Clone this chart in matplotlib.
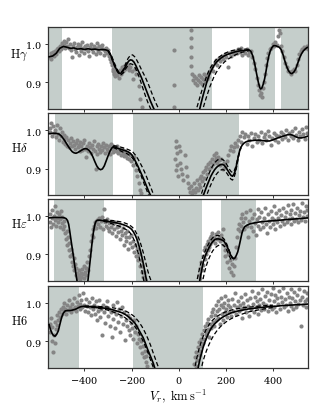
import numpy as np
import matplotlib
matplotlib.use("Agg")
import matplotlib.pyplot as plt

plt.rcParams['mathtext.fontset'] = 'cm'
plt.rcParams['font.family'] = 'serif'
plt.rcParams['font.serif'] = ['DejaVu Serif']
plt.rcParams['axes.formatter.use_mathtext'] = True

# line names and shaded velocity windows
lines = [r'$\mathrm{H}\gamma$', r'$\mathrm{H}\delta$', r'$\mathrm{H}\varepsilon$', r'$\mathrm{H6}$']
label_pos = [0.66, 0.58, 0.70, 0.58]
spans = [
    [(-560, -495), (-282, 141), (297, 410), (432, 560)],
    [(-525, -281), (-193, 255)],
    [(-528, -319), (-182, 97), (178, 329)],
    [(-560, -423), (-196, 102)],
]

# ---------- observed points (V_r, flux) ----------
hg_obs = [(-548,.965),(-544,.975),(-541,.960),(-537,.970),(-533,.978),(-529,.968),(-525,.982),(-521,.972),
(-517,.985),(-513,.990),(-509,.980),(-505,.995),(-501,.985),(-497,1.002),(-493,.992),(-489,1.008),(-485,.998),
(-481,.988),(-477,1.005),(-473,.995),(-469,1.012),(-465,.990),(-461,1.000),(-457,.983),(-453,.965),(-449,.995),
(-445,1.003),(-441,.985),(-437,.978),(-433,.992),(-429,1.000),(-425,.970),(-421,.988),(-417,.996),(-413,.982),
(-409,1.005),(-405,.990),(-401,.975),(-397,.993),(-393,.985),(-389,.998),(-385,.980),(-381,.968),(-377,.992),
(-373,1.000),(-369,.986),(-365,.978),(-361,.995),(-357,.988),(-353,.972),(-349,.990),(-345,1.002),(-341,.982),
(-337,.994),(-333,.976),(-329,.988),(-325,.996),(-321,.985),(-317,.970),(-313,.980),(-309,.990),(-305,.975),
(-301,.984),(-297,.968),(-293,.960),(-289,.952),(-285,.945),(-281,.935),(-277,.928),(-273,.922),(-269,.915),
(-265,.930),(-261,.918),(-257,.925),(-253,.910),(-249,.932),(-245,.920),(-241,.938),(-237,.928),(-233,.942),
(-229,.935),(-225,.948),(-221,.938),(-217,.945),(-212,.932),(-207,.940),(-200,.928),(-193,.909),(-186,.935),
(-180,.920),(-168,.891),(-166,.857),(-158,.836),(-22,.983),(-22,.893),(-22,.835),(51,1.037),(51,1.016),
(52,.991),(51,.965),(53,.943),(55,.922),(62,.905),(66,.915),(70,.898),(74,.910),(78,.892),(82,.905),(86,.918),
(90,.900),(94,.912),(98,.895),(102,.908),(106,.920),(110,.902),(114,.915),(118,.908),(122,.922),(126,.912),
(130,.925),(135,.935),(140,.942),(146,.930),(152,.950),(158,.958),(164,.945),(170,.962),(176,.955),(182,.968),
(188,.960),(194,.972),(200,.965),(209,.940),(215,.975),(221,.968),(227,.978),(233,.972),(240,.982),(246,.975),
(252,.985),(258,.978),(264,.988),(270,.970),(276,.980),(282,.975),(288,.986),(294,.970),(300,.978),(306,.982),
(312,.965),(318,.950),(324,.935),(330,.910),(336,.892),(341,.878),(345,.865),(349,.872),(353,.860),(357,.885),
(361,.900),(366,.920),(370,.945),(375,.962),(380,.975),(386,.985),(392,.990),(398,1.000),(404,.995),(410,1.005),
(416,.998),(422,1.020),(426,1.035),(430,1.028),(434,.995),(440,.982),(446,.965),(452,.950),(458,.938),(464,.930),
(470,.925),(476,.920),(482,.928),(488,.935),(494,.930),(500,.945),(506,.960),(512,.972),(518,.980),(524,.985),
(530,.992),(536,.988),(542,.995),(548,.985)]

hd_obs = [(-548,1.005),(-545,.995),(-541,1.020),(-537,.985),(-533,1.010),(-529,.992),(-525,1.000),(-521,.982),
(-517,1.015),(-513,.990),(-509,.975),(-505,1.005),(-501,.985),(-497,.995),(-493,.970),(-489,.988),(-485,.978),
(-481,.965),(-477,.982),(-473,.960),(-469,.975),(-465,.955),(-461,.968),(-457,.980),(-453,.958),(-449,.972),
(-445,.962),(-441,.950),(-437,.968),(-433,.975),(-429,.955),(-425,.962),(-421,.945),(-417,.970),(-413,.958),
(-409,.948),(-405,.966),(-401,.975),(-397,.952),(-393,.930),(-389,.960),(-385,.945),(-381,.968),(-377,.955),
(-373,.940),(-369,.962),(-365,.950),(-361,.972),(-357,.945),(-353,.898),(-349,.958),(-345,.938),(-341,.965),
(-337,.952),(-333,.942),(-329,.960),(-325,.948),(-321,.968),(-317,.955),(-313,.940),(-309,.962),(-305,.950),
(-301,.945),(-297,.958),(-293,.938),(-289,.965),(-285,.950),(-281,.942),(-277,.960),(-273,.948),(-269,.955),
(-265,.945),(-261,.958),(-257,.940),(-253,.952),(-249,.945),(-245,.935),(-241,.950),(-237,.940),(-233,.932),
(-229,.945),(-225,.935),(-221,.928),(-217,.940),(-212,.925),(-207,.935),(-201,.920),(-195,.910),(-188,.930),
(-182,.895),(-176,.880),(-170,.862),(-166,.845),(-160,.835),(-12,.972),(-10,.955),(-8,.940),(-14,.925),
(-6,.910),(-10,.895),(-4,.880),(2,.960),(6,.945),(4,.915),(10,.900),(14,.885),(20,.870),(26,.935),(30,.905),
(34,.880),(38,.862),(44,.850),(48,.840),(52,.855),(56,.835),(60,.845),(64,.862),(68,.838),(72,.850),(76,.870),
(80,.845),(84,.860),(88,.875),(92,.852),(96,.880),(100,.868),(104,.890),(108,.875),(112,.895),(116,.905),
(120,.885),(124,.912),(128,.898),(132,.918),(136,.905),(140,.925),(144,.912),(148,.935),(152,.920),(156,.928),
(160,.940),(164,.915),(168,.930),(172,.922),(176,.910),(180,.925),(186,.900),(192,.915),(198,.905),(204,.920),
(210,.935),(216,.948),(222,.960),(228,.945),(234,.955),(240,.968),(246,.960),(252,.975),(258,.985),(264,.970),
(270,.995),(276,.982),(282,.990),(288,.965),(294,.985),(300,.975),(306,.992),(312,.960),(318,.980),(324,.990),
(330,.970),(336,.985),(342,.975),(348,.995),(354,.968),(360,.982),(366,.990),(372,.975),(378,.998),(384,.985),
(390,.962),(396,.980),(402,.992),(408,.975),(414,.988),(420,.970),(426,.985),(432,.995),(438,.978),(444,.990),
(450,.982),(456,1.000),(462,.975),(468,.992),(474,.985),(480,.998),(486,.980),(492,1.005),(498,.988),(504,.975),
(510,.995),(516,.985),(522,1.002),(528,.990),(534,.978),(540,1.008),(546,.992)]

he_obs = [(-548,.985),(-545,1.005),(-542,.970),(-539,.995),(-536,1.015),(-533,.980),(-530,1.000),(-527,.990),
(-524,1.025),(-521,.975),(-518,1.010),(-515,.995),(-512,.985),(-509,1.005),(-506,.970),(-503,.992),(-500,1.012),
(-497,.982),(-494,.998),(-491,.965),(-488,.988),(-485,.975),(-482,.955),(-479,.940),(-476,.960),(-473,.925),
(-470,.945),(-467,.910),(-464,.930),(-461,.895),(-458,.915),(-455,.880),(-452,.900),(-449,.870),(-446,.890),
(-443,.858),(-440,.875),(-437,.845),(-434,.865),(-431,.850),(-428,.838),(-425,.860),(-422,.845),(-419,.835),
(-416,.852),(-413,.840),(-410,.862),(-407,.848),(-404,.870),(-401,.838),(-398,.855),(-395,.845),(-392,.865),
(-389,.880),(-386,.858),(-382,.895),(-378,.912),(-374,.935),(-370,.950),(-366,.965),(-362,.945),(-358,.975),
(-354,.985),(-350,.968),(-346,.990),(-342,.978),(-338,.995),(-334,.972),(-330,.988),(-326,.998),(-322,.965),
(-318,1.018),(-314,.985),(-310,.975),(-306,.992),(-302,.968),(-298,.982),(-294,.960),(-290,.985),(-286,.972),
(-282,.955),(-278,.978),(-274,.965),(-270,.985),(-266,.948),(-262,.970),(-258,.958),(-254,.975),(-250,.940),
(-246,.962),(-242,.950),(-238,.968),(-234,.925),(-230,.955),(-226,.945),(-222,.935),(-218,.960),(-214,.915),
(-210,.945),(-206,.930),(-202,.950),(-198,.920),(-194,.935),(-190,.905),(-186,.925),(-182,.895),(-178,.915),
(-174,.885),(-170,.900),(-166,.870),(-162,.885),(-158,.855),(-154,.870),(-150,.840),(-146,.855),(-142,.835),
(86,.845),(88,.865),(92,.838),(95,.880),(98,.858),(101,.895),(104,.872),(107,.910),(110,.888),(113,.920),
(116,.900),(119,.928),(122,.912),(125,.935),(128,.920),(131,.942),(134,.928),(137,.948),(140,.935),(143,.955),
(146,.938),(150,.945),(154,.930),(158,.952),(162,.940),(166,.958),(170,.945),(174,.935),(178,.950),(182,.940),
(186,.966),(190,.925),(194,.910),(198,.895),(202,.915),(206,.880),(210,.900),(214,.865),(218,.885),(222,.855),
(226,.875),(230,.845),(234,.870),(238,.890),(242,.920),(246,.945),(250,.965),(254,.980),(258,.960),(262,.995),
(266,.975),(270,1.005),(274,.985),(278,.965),(282,.995),(286,1.010),(290,.975),(294,.945),(298,.988),(302,1.015),
(306,.970),(310,.995),(314,.960),(318,1.005),(322,.982),(326,.950),(330,.992),(334,1.018),(338,.975),(342,.998),
(346,.965),(350,1.010),(354,.985),(358,.972),(362,.995),(366,1.020),(370,.980),(374,.955),(378,1.005),(382,.988),
(386,.970),(390,1.012),(394,.995),(398,.978),(402,1.025),(406,.990),(410,.965),(414,1.008),(418,.985),(422,.995),
(426,1.015),(430,.975),(434,1.002),(438,.988),(442,1.020),(446,.980),(450,.998),(454,1.010),(458,.985),(462,1.028),
(466,.992),(470,1.005),(474,.980),(478,1.015),(482,.995),(486,1.030),(490,.988),(494,1.008),(498,.992),(502,1.020),
(506,.985),(510,1.002),(514,1.012),(518,.990),(522,1.035),(526,.998),(530,1.010),(534,.988),(538,1.025),
(542,1.000),(546,1.015)]

h6_obs = [(-548,.945),(-545,.925),(-542,.960),(-539,.900),(-536,.938),(-533,.872),(-530,.915),(-527,.950),
(-524,.895),(-521,.932),(-518,.968),(-515,.942),(-512,.955),(-509,.975),(-505,.962),(-501,.985),(-497,.970),
(-493,.990),(-489,.978),(-485,1.000),(-481,.985),(-477,.972),(-473,.995),(-469,.982),(-465,1.008),(-461,.990),
(-457,.975),(-453,.998),(-449,.985),(-445,1.012),(-441,.990),(-437,.978),(-433,1.002),(-429,.992),(-425,1.020),
(-421,.985),(-417,.998),(-413,1.008),(-409,.988),(-405,1.025),(-401,.995),(-397,.980),(-393,1.010),(-389,.992),
(-385,.975),(-381,1.002),(-377,.988),(-373,.968),(-369,1.012),(-365,.985),(-361,.995),(-357,.972),(-353,1.005),
(-349,.955),(-345,.990),(-341,.978),(-337,1.008),(-333,.962),(-329,.985),(-325,.917),(-321,.995),(-317,.975),
(-313,.948),(-309,.990),(-305,1.005),(-301,.965),(-297,.985),(-293,.940),(-289,.975),(-285,.912),(-281,.995),
(-277,.958),(-273,.980),(-269,.935),(-265,.970),(-261,1.002),(-257,.950),(-253,.985),(-249,.925),(-245,.965),
(-241,.990),(-237,.945),(-233,.975),(-229,.902),(-225,.955),(-221,.940),(-217,.968),(-213,.930),(-209,.960),
(-205,.915),(-201,.948),(-197,.935),(-193,.905),(-189,.955),(-185,.925),(-181,.940),(-177,.895),(-173,.918),
(-169,.905),(-165,.885),(-161,.900),(-157,.870),(-153,.888),(-149,.858),(-145,.875),(-141,.845),(-137,.862),
(-133,.835),(66,.840),(69,.858),(72,.835),(75,.872),(78,.850),(81,.885),(84,.865),(87,.898),(90,.875),(93,.905),
(96,.888),(99,.918),(102,.895),(105,.930),(108,.905),(111,.940),(114,.915),(117,.925),(120,.948),(123,.932),
(126,.958),(129,.910),(132,.945),(135,.965),(138,.935),(141,.975),(144,.950),(147,.985),(150,.940),(153,.968),
(156,.995),(159,.955),(162,.978),(165,1.005),(168,.960),(171,.985),(174,.945),(177,.995),(180,1.012),(183,.970),
(186,.988),(189,.955),(192,1.000),(195,.975),(198,1.018),(201,.985),(204,.962),(207,.995),(210,1.008),(214,.975),
(218,.990),(222,.965),(226,1.010),(230,.980),(234,.995),(238,1.025),(242,.970),(246,.988),(250,1.005),(254,.978),
(258,.995),(262,1.015),(266,.985),(270,.960),(274,1.000),(278,.990),(282,1.022),(286,.975),(290,1.008),(294,.992),
(298,.965),(302,1.012),(306,.985),(310,1.030),(314,.998),(318,.975),(322,1.015),(326,.990),(330,1.005),(334,.970),
(338,1.025),(342,.995),(346,1.010),(350,.982),(354,1.035),(358,1.000),(362,.985),(366,1.018),(370,.995),(374,1.028),
(378,.978),(382,1.008),(386,.992),(390,1.022),(394,.985),(398,1.040),(402,1.005),(406,.990),(410,1.020),(414,.975),
(418,1.012),(422,.998),(426,1.030),(430,.985),(434,1.015),(438,1.002),(442,1.038),(446,.990),(450,1.010),(454,.995),
(458,1.025),(462,.980),(466,1.015),(470,1.000),(474,1.035),(478,.992),(482,1.012),(486,.985),(490,1.028),(494,1.005),
(498,.990),(502,1.020),(506,.998),(510,1.035),(514,1.008),(518,.939),(522,1.015),(526,.995),(530,1.030),(534,1.005),
(538,.990),(542,1.025),(546,1.010)]

# ---------- model profiles (solid) ----------
hg_mod = [(-550,.966),(-535,.968),(-520,.975),(-505,.988),(-490,.993),(-475,.991),(-460,.988),(-445,.989),(-430,.986),
(-415,.987),(-400,.985),(-385,.987),(-370,.985),(-355,.986),(-340,.984),(-325,.985),(-310,.984),(-300,.982),(-292,.975),
(-285,.965),(-278,.952),(-270,.940),(-262,.930),(-254,.924),(-248,.922),(-242,.925),(-236,.930),(-228,.938),(-220,.948),
(-212,.955),(-205,.958),(-198,.957),(-190,.952),(-182,.943),(-174,.932),(-166,.922),(-158,.911),(-150,.898),(-140,.882),
(-130,.866),(-120,.850),(-110,.836),(-104,.828),(-90,.80),(80,.80),(89,.830),(96,.848),(103,.865),(110,.880),(118,.898),
(126,.913),(134,.925),(142,.935),(150,.944),(160,.952),(170,.958),(182,.964),(195,.969),(210,.973),(225,.976),(240,.979),
(255,.981),(270,.982),(285,.983),(298,.984),(306,.980),(314,.968),(322,.948),(330,.922),(338,.898),(344,.885),(348,.882),
(352,.884),(358,.894),(364,.908),(370,.928),(376,.950),(382,.968),(388,.981),(395,.990),(402,.995),(410,.995),(418,.993),
(426,.991),(434,.985),(442,.972),(450,.955),(458,.940),(466,.929),(474,.923),(480,.922),(488,.926),(496,.934),(504,.948),
(512,.962),(520,.973),(528,.981),(536,.986),(544,.990),(550,.991)]

hd_mod = [(-550,.991),(-535,.992),(-520,.992),(-508,.990),(-500,.986),(-492,.980),(-484,.973),(-476,.965),(-468,.957),
(-460,.950),(-452,.944),(-444,.941),(-436,.940),(-428,.942),(-420,.945),(-412,.948),(-404,.951),(-396,.952),(-388,.951),
(-380,.947),(-372,.940),(-364,.930),(-356,.918),(-348,.907),(-340,.900),(-332,.897),(-324,.899),(-316,.907),(-308,.920),
(-300,.933),(-292,.945),(-285,.953),(-278,.957),(-270,.956),(-260,.953),(-250,.951),(-240,.949),(-228,.947),(-216,.944),
(-206,.940),(-198,.935),(-190,.926),(-182,.917),(-174,.907),(-166,.896),(-158,.885),(-150,.874),(-142,.862),(-134,.850),
(-126,.838),(-118,.828),(-110,.815),(-100,.80),(90,.80),(98,.818),(104,.830),(112,.843),(120,.856),(128,.868),(136,.880),
(144,.889),(152,.897),(160,.903),(168,.907),(176,.910),(184,.911),(192,.909),(200,.903),(208,.895),(216,.887),(222,.882),
(228,.880),(234,.885),(240,.895),(246,.912),(252,.930),(258,.946),(264,.956),(270,.962),(278,.967),(286,.970),(296,.972),
(310,.973),(325,.974),(340,.974),(355,.973),(370,.972),(385,.972),(400,.975),(415,.979),(430,.982),(445,.985),(460,.988),
(472,.989),(484,.987),(496,.983),(508,.980),(520,.980),(535,.982),(550,.985)]

he_mod = [(-550,.995),(-530,.996),(-510,.996),(-495,.996),(-485,.995),(-478,.993),(-472,.988),(-467,.978),(-463,.962),
(-459,.945),(-455,.928),(-451,.912),(-447,.895),(-443,.877),(-439,.860),(-435,.843),(-431,.828),(-427,.80),(-390,.80),
(-386,.828),(-382,.850),(-378,.872),(-374,.895),(-370,.918),(-366,.940),(-362,.958),(-358,.972),(-354,.982),(-350,.987),
(-344,.989),(-335,.989),(-325,.988),(-310,.987),(-295,.985),(-280,.984),(-265,.982),(-250,.980),(-235,.977),(-222,.974),
(-210,.970),(-200,.965),(-192,.958),(-185,.950),(-178,.940),(-172,.929),(-166,.916),(-160,.902),(-155,.888),(-150,.874),
(-145,.858),(-140,.842),(-136,.830),(-130,.81),(80,.80),(86,.822),(90,.835),(95,.852),(100,.868),(105,.882),(112,.895),
(120,.907),(128,.917),(136,.926),(144,.933),(152,.938),(160,.940),(168,.940),(176,.939),(184,.937),(190,.935),(196,.930),
(204,.922),(212,.910),(220,.898),(226,.891),(232,.888),(238,.890),(244,.897),(250,.906),(256,.921),(262,.938),(268,.955),
(274,.966),(280,.972),(290,.976),(300,.979),(315,.981),(330,.983),(350,.985),(370,.986),(390,.987),(410,.988),(430,.989),
(450,.990),(470,.991),(490,.992),(510,.993),(530,.994),(550,.995)]

h6_mod = [(-550,.943),(-545,.932),(-539,.922),(-532,.915),(-525,.913),(-518,.918),(-511,.927),(-504,.945),(-497,.962),
(-490,.973),(-482,.979),(-472,.980),(-462,.980),(-452,.981),(-440,.983),(-432,.985),(-424,.988),(-415,.990),(-405,.991),
(-390,.990),(-375,.990),(-355,.989),(-335,.988),(-315,.986),(-295,.984),(-275,.981),(-255,.977),(-240,.974),(-228,.970),
(-216,.965),(-205,.959),(-195,.953),(-186,.947),(-178,.939),(-170,.930),(-160,.919),(-151,.909),(-142,.895),(-133,.880),
(-123,.865),(-115,.853),(-108,.842),(-102,.830),(-95,.815),(-88,.80),(75,.80),(82,.830),(88,.848),(95,.865),(103,.883),
(110,.896),(118,.909),(126,.920),(134,.930),(142,.938),(152,.945),(162,.951),(175,.958),(190,.964),(205,.969),(223,.974),
(245,.978),(270,.981),(295,.984),(320,.986),(350,.988),(380,.990),(410,.991),(440,.993),(470,.994),(500,.995),(530,.996),
(550,.997)]

# ---------- model uncertainty (dashed), left and right wings ----------
hg_hi = [[(-300,.983),(-285,.968),(-270,.945),(-255,.926),(-245,.924),(-235,.933),(-225,.948),(-215,.962),(-205,.970),
(-196,.971),(-187,.966),(-178,.957),(-168,.945),(-158,.932),(-148,.920),(-140,.910),(-130,.896),(-120,.880),(-110,.864),
(-100,.849),(-90,.836),(-80,.824),(-70,.80)],
[(60,.80),(72,.825),(79,.838),(86,.853),(94,.870),(102,.886),(110,.901),(118,.915),(126,.927),(134,.937),(144,.947),
(155,.956),(168,.964),(182,.970),(196,.975),(210,.979),(225,.982),(240,.984),(255,.986),(270,.986),(285,.986),(298,.985)]]
hg_lo = [[(-300,.981),(-285,.962),(-270,.938),(-255,.922),(-245,.919),(-235,.924),(-225,.935),(-215,.944),(-205,.948),
(-196,.946),(-187,.940),(-178,.928),(-170,.916),(-162,.902),(-154,.887),(-146,.872),(-138,.858),(-130,.845),(-122,.834),
(-114,.822),(-105,.80)],
[(90,.80),(100,.825),(108,.842),(116,.858),(124,.873),(132,.888),(140,.900),(148,.912),(158,.924),(168,.934),(180,.944),
(195,.953),(210,.960),(225,.966),(240,.971),(255,.975),(270,.978),(285,.980),(298,.982)]]

hd_hi = [[(-278,.960),(-260,.958),(-240,.955),(-220,.951),(-205,.947),(-195,.943),(-185,.936),(-175,.927),(-165,.916),
(-155,.904),(-145,.891),(-135,.876),(-125,.860),(-115,.845),(-106,.830),(-96,.812)],
[(80,.80),(88,.818),(94,.830),(102,.845),(110,.859),(118,.872),(126,.884),(134,.895),(142,.905),(150,.913),(158,.919),
(166,.923),(174,.925),(182,.925),(190,.922),(198,.916),(206,.908),(214,.899),(222,.892),(228,.890),(234,.893),(240,.902),
(246,.916),(252,.932),(258,.947),(264,.957)]]
hd_lo = [[(-278,.955),(-260,.950),(-240,.944),(-220,.939),(-205,.933),(-195,.926),(-185,.916),(-177,.906),(-169,.895),
(-161,.883),(-153,.870),(-145,.857),(-137,.845),(-129,.832),(-120,.818),(-110,.80)],
[(104,.80),(112,.818),(118,.830),(126,.843),(134,.855),(142,.866),(150,.876),(158,.884),(166,.890),(174,.895),(182,.897),
(190,.897),(198,.893),(206,.886),(214,.878),(222,.872),(228,.870),(234,.876),(240,.888),(246,.906),(252,.926),(258,.943),
(264,.954)]]

he_hi = [[(-320,.990),(-300,.989),(-280,.988),(-260,.986),(-240,.984),(-222,.980),(-208,.976),(-196,.970),(-186,.962),
(-178,.953),(-170,.942),(-163,.930),(-156,.916),(-150,.903),(-144,.888),(-138,.873),(-132,.858),(-126,.845),(-120,.835),
(-114,.825),(-106,.80)],
[(68,.80),(74,.822),(78,.834),(84,.852),(90,.868),(96,.882),(104,.896),(112,.908),(120,.919),(128,.929),(136,.937),
(144,.943),(152,.947),(160,.949),(168,.949),(176,.947),(184,.944),(190,.941),(196,.936),(202,.929),(208,.920),(214,.910),
(220,.900),(226,.893),(232,.890)]]
he_lo = [[(-320,.986),(-300,.983),(-280,.979),(-260,.975),(-240,.970),(-222,.964),(-208,.957),(-198,.948),(-190,.938),
(-183,.927),(-177,.914),(-171,.900),(-166,.886),(-161,.871),(-156,.856),(-152,.842),(-148,.830),(-142,.81)],
[(92,.80),(98,.822),(103,.835),(108,.850),(114,.864),(120,.876),(128,.889),(136,.900),(144,.909),(152,.915),(160,.920),
(168,.923),(176,.925),(184,.925),(190,.923),(196,.919),(202,.913),(208,.905),(214,.896),(220,.888),(226,.884),(232,.884)]]

h6_hi = [[(-400,.992),(-350,.991),(-300,.989),(-260,.985),(-229,.980),(-205,.972),(-186,.963),(-170,.951),(-156,.938),
(-144,.924),(-132,.908),(-120,.890),(-110,.872),(-100,.855),(-92,.841),(-85,.830),(-78,.815),(-70,.80)],
[(62,.80),(68,.83),(75,.852),(85,.878),(95,.898),(105,.915),(115,.929),(128,.943),(142,.954),(160,.964),(185,.973),
(210,.979),(240,.984),(270,.987),(300,.989),(350,.992),(400,.994)]]
h6_lo = [[(-400,.990),(-350,.987),(-300,.981),(-260,.972),(-229,.962),(-205,.950),(-186,.938),(-172,.925),(-160,.911),
(-148,.896),(-138,.881),(-128,.865),(-120,.851),(-112,.838),(-106,.828),(-100,.815),(-92,.80)],
[(88,.80),(96,.83),(103,.848),(110,.862),(118,.876),(128,.891),(138,.904),(150,.917),(165,.930),(180,.940),(200,.950),
(220,.958),(240,.964),(270,.971),(300,.977),(350,.983),(400,.988)]]

observed = [hg_obs, hd_obs, he_obs, h6_obs]
models = [hg_mod, hd_mod, he_mod, h6_mod]
upper = [hg_hi, hd_hi, he_hi, h6_hi]
lower = [hg_lo, hd_lo, he_lo, h6_lo]

fig = plt.figure(figsize=(3.25, 4.1), dpi=100)
bottoms = [0.732, 0.521, 0.312, 0.100]

for i in range(4):
    ax = fig.add_axes([0.149, bottoms[i], 0.80, 0.200])
    for a, b in spans[i]:
        ax.axvspan(a, b, color='#c5cecb', lw=0, zorder=0)
    v, f = np.array(observed[i]).T
    ax.scatter(v, f, s=9, color='#858585', lw=0, zorder=2)
    v, f = np.array(models[i]).T
    ax.plot(v, f, color='black', lw=1.2, zorder=4)
    for seg in upper[i] + lower[i]:
        v, f = np.array(seg).T
        ax.plot(v, f, color='black', lw=0.9, ls=(0, (3.5, 2)), zorder=3)
    ax.set_xlim(-553, 550)
    ax.set_ylim(0.83, 1.044)
    ax.set_yticks([0.9, 1.0])
    ax.set_xticks([-400, -200, 0, 200, 400])
    ax.tick_params(labelsize=7, length=2.5, width=0.7, color='#333333', pad=2)
    for sp in ax.spines.values():
        sp.set_color('#333333')
        sp.set_linewidth(0.9)
    if i < 3:
        ax.set_xticklabels([])
    else:
        ax.set_xlabel(r'$V_r,\ \mathrm{km\,s^{-1}}$', fontsize=9, labelpad=1)
    ax.text(-0.113, label_pos[i], lines[i], transform=ax.transAxes,
            ha='center', va='center', fontsize=9)

fig.savefig('out.png', dpi=100)
